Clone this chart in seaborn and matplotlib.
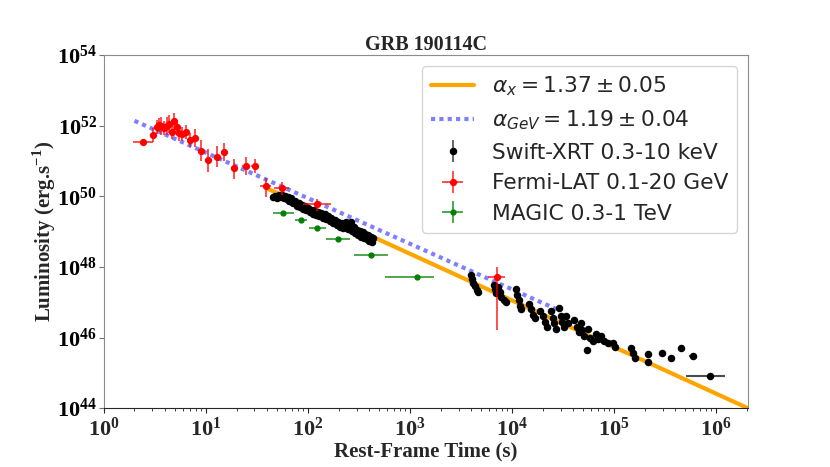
import numpy as np
import pandas as pd
import matplotlib
matplotlib.use("Agg")
import matplotlib.pyplot as plt
import seaborn as sns
from matplotlib.ticker import LogLocator, NullFormatter

# Fermi-LAT 0.1-20 GeV (time in s, log10 luminosity, errors in dex)
lat_t = [2.43, 3.07, 3.31, 3.49, 3.68, 3.90, 4.15, 4.40, 4.71, 4.89, 5.20, 5.48, 5.91,
         6.37, 7.02, 7.80, 8.93, 10.5, 12.9, 15.0, 18.8, 24.7, 30.5, 38.5, 55.2, 123, 7080]
lat_logL = [51.55, 51.74, 51.97, 52.01, 51.99, 51.93, 51.99, 52.04, 51.81, 52.12, 51.95, 51.78, 51.76,
            51.81, 51.59, 51.66, 51.29, 51.03, 51.12, 51.26, 50.80, 50.86, 50.86, 50.28, 50.25, 49.78, 47.71]
lat_ylo = [0.08, 0.20, 0.20, 0.20, 0.25, 0.20, 0.25, 0.25, 0.20, 0.25, 0.20, 0.20, 0.20,
           0.20, 0.20, 0.25, 0.30, 0.35, 0.30, 0.25, 0.30, 0.25, 0.20, 0.30, 0.20, 0.20, 1.50]
lat_yhi = [0.08, 0.20, 0.20, 0.20, 0.25, 0.20, 0.25, 0.25, 0.20, 0.25, 0.20, 0.20, 0.20,
           0.20, 0.20, 0.25, 0.30, 0.30, 0.30, 0.25, 0.25, 0.25, 0.20, 0.25, 0.15, 0.15, 0.28]
lat_xerr = [0.095, 0.02, 0.02, 0.02, 0.02, 0.02, 0.02, 0.02, 0.02, 0.02, 0.02, 0.02, 0.02,
            0.02, 0.02, 0.02, 0.03, 0.03, 0.03, 0.03, 0.03, 0.04, 0.04, 0.05, 0.07, 0.14, 0.08]

# MAGIC 0.3-1 TeV
magic_t = [57.7, 85.4, 124, 198, 415, 1162]
magic_logL = [49.52, 49.33, 49.10, 48.80, 48.35, 47.71]
magic_xlo = [0.10, 0.06, 0.08, 0.12, 0.17, 0.31]
magic_xhi = [0.10, 0.06, 0.08, 0.12, 0.17, 0.17]
magic_yerr = [0.05, 0.05, 0.05, 0.05, 0.05, 0.05]

# Swift-XRT 0.3-10 keV
xrt_t = [46, 48, 50, 52, 54, 56, 58, 60, 62, 64, 66, 68, 70, 72, 75, 78, 81, 84, 87, 90,
         93, 96, 100, 104, 108, 112, 116, 120, 125, 130, 135, 140, 146, 152, 158, 164, 170,
         177, 184, 191, 198, 206, 214, 222, 230, 238, 246, 255, 264, 273, 282, 292, 302,
         312, 322, 333, 344, 355, 366, 378, 390, 402, 414, 426, 438,
         4000, 4100, 4200, 4300, 4500, 4600,
         6600, 6800, 7000, 7300, 7600, 7900, 8300, 8700,
         11000, 11300, 11600, 12000, 12300,
         14800, 15500, 16200, 17000,
         19000, 20000, 21000, 22000,
         24000, 25000, 26000, 27000,
         29000, 30000, 31000, 32500, 34000, 35500,
         41000, 43000, 45000, 47000, 49000, 51000,
         54000, 56000, 58000, 62000, 66000, 70000, 75000, 80000, 88000,
         98000, 102000, 148000, 155000, 160000, 214000, 214000, 295000, 363000]
xrt_logL = [49.98, 50.02, 49.95, 50.03, 49.99, 50.04, 49.96, 50.02, 49.92, 49.98, 49.88, 49.94,
            49.84, 49.80, 49.86, 49.74, 49.80, 49.70, 49.76, 49.64, 49.72, 49.60, 49.68, 49.56,
            49.62, 49.50, 49.60, 49.48, 49.56, 49.44, 49.52, 49.40, 49.50, 49.36, 49.44, 49.30,
            49.38, 49.24, 49.32, 49.20, 49.28, 49.14, 49.24, 49.10, 49.20, 49.28, 49.08, 49.18,
            49.26, 49.02, 49.12, 48.96, 49.06, 48.90, 49.02, 48.86, 48.98, 48.82, 48.94, 48.78,
            48.90, 48.74, 48.86, 48.72, 48.82,
            47.78, 47.65, 47.55, 47.45, 47.35, 47.28,
            47.50, 47.38, 47.25, 47.42, 47.30, 47.15, 47.05, 47.00,
            47.38, 47.20, 47.05, 46.90, 46.80,
            46.95, 46.80, 46.65, 46.55,
            46.75, 46.60, 46.45, 46.30,
            46.75, 46.55, 46.40, 46.25,
            46.85, 46.60, 46.45, 46.30, 46.60, 46.40,
            46.50, 46.30, 46.15, 46.40, 46.20, 46.05,
            45.65, 46.25, 46.00, 45.90, 46.10, 45.95, 46.05, 45.90, 45.85,
            45.85, 45.72, 45.70, 45.55, 45.42, 45.52, 45.31, 45.55, 45.43]
# late XRT bins with time extent
xrt_late_t = [457000, 590000, 870000]
xrt_late_logL = [45.69, 45.48, 44.91]
xrt_late_xlo = [0.03, 0.04, 0.23]
xrt_late_xhi = [0.03, 0.04, 0.15]

# power-law fits (end points)
fit_x_t = [40, 2.05e6]
fit_x_logL = [50.22, 44.0]
fit_gev_t = [2.0, 2.9e4]
fit_gev_logL = [52.14, 46.77]

sns.set_style("ticks")
plt.rcParams["font.family"] = ["Liberation Serif", "DejaVu Serif"]
plt.rcParams["font.weight"] = "bold"
plt.rcParams["axes.labelweight"] = "bold"
plt.rcParams["axes.titleweight"] = "bold"
# keep the legend maths in plain DejaVu Sans
plt.rcParams["mathtext.fontset"] = "custom"
plt.rcParams["mathtext.rm"] = "DejaVu Sans:weight=normal"
plt.rcParams["mathtext.it"] = "DejaVu Sans:italic:weight=normal"
plt.rcParams["mathtext.bf"] = "DejaVu Sans:weight=bold"


def dex_err(logv, lo, hi):
    v = 10 ** np.asarray(logv, dtype=float)
    return v, np.array([v - v * 10 ** -np.asarray(lo), v * 10 ** np.asarray(hi) - v])


fig, ax = plt.subplots(figsize=(8.3, 4.67), dpi=100)
fig.subplots_adjust(left=0.125, right=0.901, bottom=0.126, top=0.882)
ax.set_xscale("log")
ax.set_yscale("log")

fit_x = pd.DataFrame({"t": fit_x_t, "L": 10 ** np.array(fit_x_logL)})
fit_gev = pd.DataFrame({"t": fit_gev_t, "L": 10 ** np.array(fit_gev_logL)})
sns.lineplot(data=fit_x, x="t", y="L", ax=ax, color="orange", lw=3, zorder=2)
sns.lineplot(data=fit_gev, x="t", y="L", ax=ax, color="#8080ff", lw=3,
             linestyle=(0, (1, 1)), zorder=2)
h_x = ax.lines[0]
h_gev = ax.lines[1]

# Swift-XRT
xt, xL = np.array(xrt_t, dtype=float), 10 ** np.array(xrt_logL)
_, xyerr = dex_err(xrt_logL, [0.04] * len(xrt_t), [0.04] * len(xrt_t))
h_xrt = ax.errorbar(xt, xL, yerr=xyerr, fmt="o", color="black", ms=4.4,
                    ecolor=(0, 0, 0, 0.7), elinewidth=1.2, zorder=3,
                    label="Swift-XRT 0.3-10 keV")
lt = np.array(xrt_late_t, dtype=float)
lL = 10 ** np.array(xrt_late_logL)
lxerr = np.array([lt - lt * 10 ** -np.array(xrt_late_xlo), lt * 10 ** np.array(xrt_late_xhi) - lt])
ax.errorbar(lt, lL, xerr=lxerr, fmt="o", color="black", ms=4.4,
            ecolor=(0, 0, 0, 0.7), elinewidth=1.5, zorder=3)

# Fermi-LAT
rt = np.array(lat_t, dtype=float)
rL, ryerr = dex_err(lat_logL, lat_ylo, lat_yhi)
rxerr = np.array([rt - rt * 10 ** -np.array(lat_xerr), rt * 10 ** np.array(lat_xerr) - rt])
h_lat = ax.errorbar(rt, rL, xerr=rxerr, yerr=ryerr, fmt="o", color="red", ms=4.2,
                    ecolor=(1, 0, 0, 0.75), elinewidth=1.3, zorder=4,
                    label="Fermi-LAT 0.1-20 GeV")

# MAGIC
gt = np.array(magic_t, dtype=float)
gL, gyerr = dex_err(magic_logL, magic_yerr, magic_yerr)
gxerr = np.array([gt - gt * 10 ** -np.array(magic_xlo), gt * 10 ** np.array(magic_xhi) - gt])
h_magic = ax.errorbar(gt, gL, xerr=gxerr, yerr=gyerr, fmt="o", color="green", ms=3.5,
                      ecolor=(0, 0.5, 0, 0.75), elinewidth=1.3, zorder=3,
                      label="MAGIC 0.3-1 TeV")

ax.set_xlim(1, 2.05e6)
ax.set_ylim(1e44, 1e54)
ax.set_yticks([10.0 ** k for k in range(44, 55, 2)])
ax.yaxis.set_minor_locator(plt.NullLocator())
ax.set_xticks([10.0 ** k for k in range(0, 7)])
ax.xaxis.set_minor_locator(LogLocator(base=10, subs=np.arange(2, 10), numticks=20))
ax.xaxis.set_minor_formatter(NullFormatter())
ax.tick_params(axis="both", which="major", labelsize=16, length=3.5, width=0.8)
ax.tick_params(axis="y", pad=1.5)
ax.tick_params(axis="x", which="minor", length=2, width=0.6)
ax.tick_params(axis="y", colors="0.45", labelcolor="black")

for side in ["top", "right", "left"]:
    ax.spines[side].set_color("0.55")
ax.spines["bottom"].set_color("0.15")

ax.set_title("GRB 190114C", fontsize=14.5, fontweight="bold", pad=4)
ax.set_xlabel("Rest-Frame Time (s)", fontsize=15, fontweight="bold", labelpad=0)
ax.set_ylabel(r"Luminosity (erg.s$^{\mathdefault{-1}}$)", fontsize=15,
              fontweight="bold", labelpad=-1)

ax.legend(handles=[h_x, h_gev, h_xrt, h_lat, h_magic],
          labels=[r"$\alpha_x = 1.37 \pm 0.05$", r"$\alpha_{GeV} = 1.19 \pm 0.04$",
                  "Swift-XRT 0.3-10 keV", "Fermi-LAT 0.1-20 GeV", "MAGIC 0.3-1 TeV"],
          loc="upper right", prop={"family": "DejaVu Sans", "size": 15.7, "weight": "normal"},
          labelspacing=0.48, borderpad=0.4, handlelength=2.0, framealpha=0.8)

fig.savefig("out.png", dpi=100)
